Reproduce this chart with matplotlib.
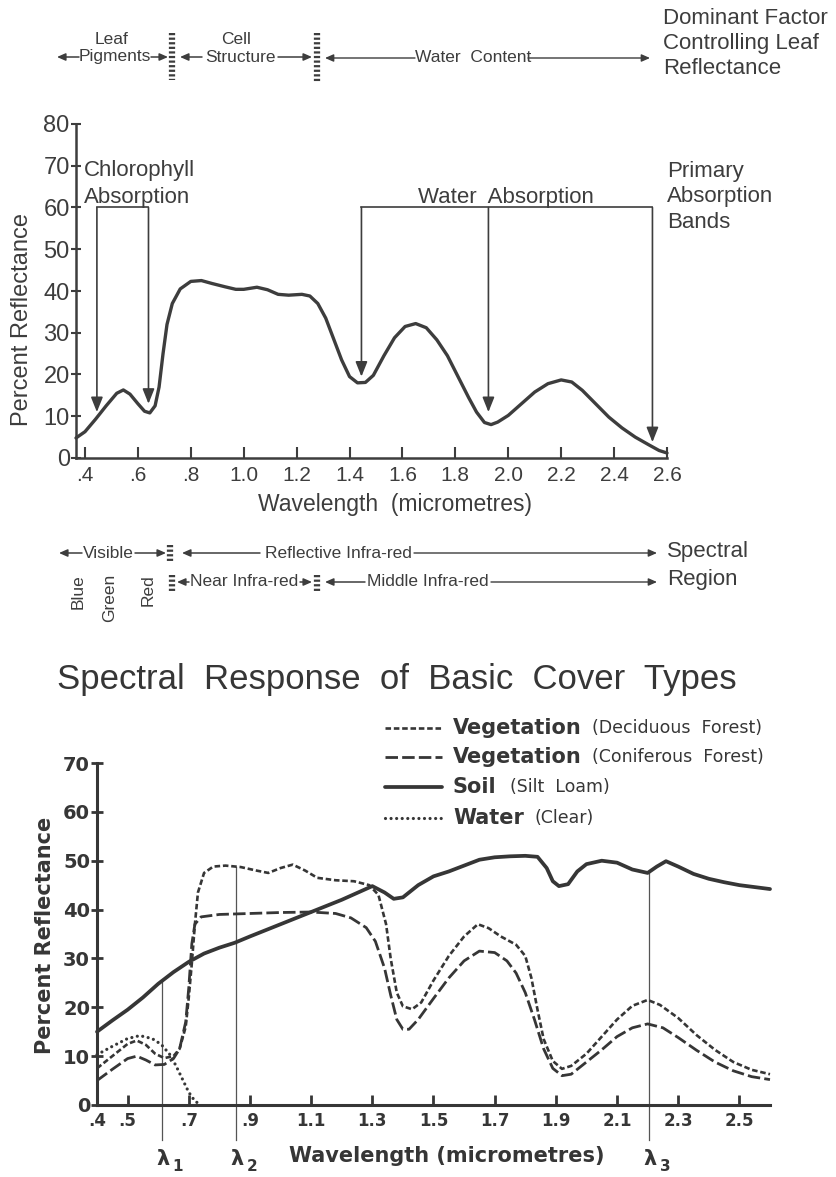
import numpy as np
import matplotlib
matplotlib.use("Agg")
import matplotlib.pyplot as plt
from matplotlib.lines import Line2D

plt.rcParams["lines.scale_dashes"] = False
plt.rcParams["font.family"] = ["Liberation Sans", "DejaVu Sans"]

# ---------------- Leaf reflectance (upper panel) ----------------
leaf_wl = [0.366, 0.40, 0.44, 0.48, 0.52, 0.545, 0.57, 0.60, 0.625, 0.645,
           0.665, 0.68, 0.695, 0.71, 0.73, 0.76, 0.80, 0.84, 0.88, 0.93,
           0.97, 1.00, 1.05, 1.09, 1.13, 1.17, 1.22, 1.25, 1.28, 1.31,
           1.34, 1.37, 1.40, 1.43, 1.46, 1.49, 1.53, 1.57, 1.61, 1.65,
           1.69, 1.73, 1.77, 1.81, 1.85, 1.88, 1.91, 1.935, 1.96, 2.00,
           2.05, 2.10, 2.15, 2.20, 2.24, 2.28, 2.33, 2.38, 2.43, 2.48,
           2.53, 2.57, 2.60]
leaf_refl = [4.8, 6.3, 9.3, 12.5, 15.5, 16.3, 15.3, 13.0, 11.2, 10.8,
             12.5, 17.0, 25.0, 32.0, 37.0, 40.5, 42.3, 42.5, 41.8, 41.0,
             40.4, 40.4, 40.9, 40.3, 39.2, 39.0, 39.2, 38.8, 37.0, 33.5,
             28.5, 23.5, 19.5, 18.0, 18.1, 19.8, 24.5, 28.8, 31.5, 32.2,
             31.2, 28.3, 24.5, 19.5, 14.5, 11.0, 8.5, 8.0, 8.6, 10.2,
             13.0, 15.8, 17.8, 18.7, 18.2, 16.2, 13.0, 9.8, 7.2, 5.0,
             3.2, 1.8, 1.2]

chloro_bands = [0.445, 0.64]
chloro_tips = [11.0, 13.0]
water_bands = [1.445, 1.925, 2.545]
water_tips = [19.5, 11.0, 3.8]
bracket_level = 60

top_xticks = [0.4, 0.6, 0.8, 1.0, 1.2, 1.4, 1.6, 1.8, 2.0, 2.2, 2.4, 2.6]
top_xlabels = [".4", ".6", ".8", "1.0", "1.2", "1.4", "1.6", "1.8",
               "2.0", "2.2", "2.4", "2.6"]
top_yticks = [0, 10, 20, 30, 40, 50, 60, 70, 80]

# ---------------- Cover types (lower panel) ----------------
dec_wl = [0.40, 0.45, 0.50, 0.53, 0.56, 0.59, 0.62, 0.65, 0.67, 0.69,
          0.70, 0.71, 0.72, 0.73, 0.75, 0.78, 0.82, 0.87, 0.92, 0.96,
          1.00, 1.04, 1.08, 1.12, 1.18, 1.24, 1.29, 1.32, 1.345, 1.36,
          1.38, 1.40, 1.43, 1.46, 1.50, 1.55, 1.60, 1.645, 1.68, 1.72,
          1.77, 1.80, 1.82, 1.84, 1.86, 1.89, 1.92, 1.95, 2.00, 2.05,
          2.10, 2.15, 2.20, 2.24, 2.30, 2.36, 2.42, 2.48, 2.54, 2.60]
dec_refl = [7.5, 10.0, 12.5, 13.2, 12.3, 10.5, 9.6, 10.0, 11.5, 16.0,
            22.0, 29.0, 37.0, 43.5, 47.5, 48.8, 49.0, 48.7, 48.0, 47.5,
            48.5, 49.2, 48.0, 46.5, 46.0, 45.8, 45.0, 43.0, 37.0, 30.0,
            23.0, 20.2, 19.6, 21.0, 25.5, 30.5, 34.5, 37.0, 36.2, 34.5,
            32.8, 30.5, 26.0, 19.5, 13.5, 9.0, 7.4, 8.0, 10.5, 14.0,
            17.5, 20.3, 21.5, 20.5, 17.8, 14.3, 11.3, 8.8, 7.2, 6.3]

con_wl = [0.40, 0.45, 0.50, 0.53, 0.56, 0.59, 0.62, 0.65, 0.67, 0.69,
          0.70, 0.71, 0.72, 0.74, 0.80, 0.90, 1.00, 1.10, 1.18, 1.23,
          1.28, 1.31, 1.34, 1.36, 1.38, 1.40, 1.42, 1.45, 1.50, 1.55,
          1.60, 1.65, 1.70, 1.74, 1.77, 1.80, 1.83, 1.86, 1.89, 1.92,
          1.95, 2.00, 2.05, 2.10, 2.15, 2.20, 2.25, 2.30, 2.36, 2.42,
          2.48, 2.54, 2.60]
con_refl = [5.0, 7.3, 9.5, 10.0, 9.2, 8.2, 8.3, 9.5, 11.5, 17.0,
            24.0, 33.0, 37.0, 38.5, 39.0, 39.2, 39.4, 39.5, 39.2, 38.3,
            36.3, 33.5, 28.0, 22.5, 17.5, 15.5, 15.5, 17.5, 21.8, 26.0,
            29.5, 31.5, 31.2, 29.5, 27.0, 23.0, 17.5, 11.5, 7.5, 6.0,
            6.3, 8.8, 11.3, 14.0, 15.8, 16.6, 15.8, 13.8, 11.2, 8.8,
            7.0, 5.8, 5.2]

soil_wl = [0.40, 0.45, 0.50, 0.55, 0.60, 0.65, 0.70, 0.75, 0.80, 0.85,
           0.90, 1.00, 1.10, 1.20, 1.30, 1.34, 1.37, 1.40, 1.45, 1.50,
           1.55, 1.60, 1.65, 1.70, 1.75, 1.80, 1.84, 1.87, 1.89, 1.91,
           1.94, 1.97, 2.00, 2.05, 2.10, 2.15, 2.20, 2.23, 2.26, 2.30,
           2.35, 2.40, 2.45, 2.50, 2.55, 2.60]
soil_refl = [15.0, 17.3, 19.5, 22.0, 24.8, 27.2, 29.3, 31.0, 32.2, 33.2,
             34.5, 37.0, 39.5, 42.0, 44.8, 43.5, 42.2, 42.5, 45.0, 46.8,
             47.8, 49.0, 50.2, 50.7, 50.9, 51.0, 50.8, 48.5, 45.8, 44.8,
             45.2, 47.8, 49.3, 50.0, 49.6, 48.2, 47.5, 48.8, 49.9, 48.8,
             47.3, 46.3, 45.6, 45.0, 44.6, 44.2]

water_wl = [0.40, 0.45, 0.50, 0.54, 0.58, 0.61, 0.64, 0.66, 0.68, 0.70,
            0.72, 0.74]
water_refl = [10.3, 12.0, 13.6, 14.2, 13.6, 12.4, 10.2, 7.8, 5.2, 2.6,
              0.8, 0.0]

bot_xticks = [0.4, 0.5, 0.7, 0.9, 1.1, 1.3, 1.5, 1.7, 1.9, 2.1, 2.3, 2.5]
bot_xlabels = [".4", ".5", ".7", ".9", "1.1", "1.3", "1.5", "1.7", "1.9",
               "2.1", "2.3", "2.5"]
bot_yticks = [0, 10, 20, 30, 40, 50, 60, 70]

lambda_pos = [0.612, 0.854, 2.204]
lambda_sub = ["1", "2", "3"]

# ---------------- styling ----------------
INK = "#3d3d3d"
INK2 = "#363636"
TOP_FONT = ["Liberation Sans", "DejaVu Sans"]
BOT_FONT = ["DejaVu Sans"]

STYLE_DEC = dict(color=INK2, lw=1.9, dashes=(4.0, 2.0), dash_capstyle="butt")
STYLE_CON = dict(color=INK2, lw=2.0, dashes=(9.0, 3.0), dash_capstyle="butt")
STYLE_SOIL = dict(color=INK2, lw=2.7, solid_joinstyle="round",
                  solid_capstyle="round")
STYLE_WATER = dict(color=INK2, lw=2.3, dashes=(0.01, 4.0),
                   dash_capstyle="round")

W, H = 836, 1177
fig = plt.figure(figsize=(W / 100, H / 100), dpi=100)
fig.patch.set_facecolor("white")


def px_axes(left, top, right, bottom):
    return fig.add_axes([left / W, 1 - bottom / H,
                         (right - left) / W, (bottom - top) / H])


ax1 = px_axes(76, 124, 667, 458)
ax2 = px_axes(97, 763, 770, 1105)

ann = fig.add_axes([0, 0, 1, 1])
ann.set_xlim(0, W)
ann.set_ylim(H, 0)
ann.axis("off")
ann.patch.set_alpha(0)
ann.set_zorder(5)


def arrow(ax, x0, y0, x1, y1, hl=0.6, hw=0.25, ms=10, lw=1.1, color=INK):
    ax.annotate("", xy=(x1, y1), xytext=(x0, y0),
                arrowprops=dict(arrowstyle=f"-|>,head_length={hl},head_width={hw}",
                                mutation_scale=ms, lw=lw, color=color,
                                shrinkA=0, shrinkB=0),
                annotation_clip=False)


def separator(ax, x, y0, y1, lw=4.5):
    ax.plot([x, x], [y0, y1], color=INK, lw=lw, dashes=(1.6, 1.7),
            dash_capstyle="butt", solid_capstyle="butt")


# ================= upper panel =================
for ax in (ax1, ax2):
    ax.patch.set_alpha(0)
    for s in ("top", "right"):
        ax.spines[s].set_visible(False)

ax1.plot(leaf_wl, leaf_refl, color=INK, lw=2.4, solid_joinstyle="round",
         solid_capstyle="round", clip_on=False, zorder=3)
ax1.set_xlim(0.366, 2.6)
ax1.set_ylim(0, 80)
for s in ("left", "bottom"):
    ax1.spines[s].set_linewidth(1.8)
    ax1.spines[s].set_color(INK)
ax1.set_xticks(top_xticks)
ax1.set_xticklabels(top_xlabels)
ax1.set_yticks(top_yticks)
ax1.tick_params(axis="x", direction="in", length=8, width=1.5, pad=6,
                labelsize=15, colors=INK)
ax1.tick_params(axis="y", direction="inout", length=7, width=1.5, pad=1,
                labelsize=17, colors=INK)
for lab in ax1.get_xticklabels() + ax1.get_yticklabels():
    lab.set_family(TOP_FONT)

# absorption brackets with arrows
ax1.plot([chloro_bands[0], chloro_bands[-1]], [bracket_level] * 2,
         color=INK, lw=1.2)
for x, tip in zip(chloro_bands, chloro_tips):
    arrow(ax1, x, bracket_level, x, tip, hl=0.75, hw=0.3, ms=12, lw=1.2)
ax1.plot([water_bands[0], water_bands[-1]], [bracket_level] * 2,
         color=INK, lw=1.2)
for x, tip in zip(water_bands, water_tips):
    arrow(ax1, x, bracket_level, x, tip, hl=0.75, hw=0.3, ms=12, lw=1.2)

ax1.text(0.395, 68.8, "Chlorophyll", fontsize=16, color=INK, va="center",
         family=TOP_FONT)
ax1.text(0.395, 62.4, "Absorption", fontsize=16, color=INK, va="center",
         family=TOP_FONT)
ax1.text(1.99, 62.4, "Water  Absorption", fontsize=16, color=INK,
         va="center", ha="center", family=TOP_FONT)

ann.text(22, 320, "Percent Reflectance", rotation=90, fontsize=17, color=INK,
         ha="center", va="center", family=TOP_FONT)
ann.text(395, 505, "Wavelength  (micrometres)", fontsize=16.5, color=INK,
         ha="center", va="center", family=TOP_FONT)
for i, s in enumerate(["Primary", "Absorption", "Bands"]):
    ann.text(667, 171 + 25.5 * i, s, fontsize=16, color=INK, va="center",
             family=TOP_FONT)

# dominant factor header
ann.text(112, 40, "Leaf", fontsize=12.5, color=INK, ha="center", va="center")
ann.text(115, 57, "Pigments", fontsize=12.5, color=INK, ha="center",
         va="center")
arrow(ann, 79, 57, 57, 57, hl=0.5, hw=0.22, ms=10)
arrow(ann, 151, 57, 168, 57, hl=0.5, hw=0.22, ms=10)
separator(ann, 172, 33, 80)
ann.text(236, 40, "Cell", fontsize=12.5, color=INK, ha="center", va="center")
ann.text(240, 57, "Structure", fontsize=12.5, color=INK, ha="center",
         va="center")
arrow(ann, 202, 57, 180, 57, hl=0.5, hw=0.22, ms=10)
arrow(ann, 278, 57, 312, 57, hl=0.5, hw=0.22, ms=10)
separator(ann, 317, 33, 82)
ann.text(473, 58, "Water  Content", fontsize=12.5, color=INK, ha="center",
         va="center")
arrow(ann, 415, 58, 325, 58, hl=0.5, hw=0.22, ms=10, lw=1.0)
arrow(ann, 528, 58, 650, 58, hl=0.5, hw=0.22, ms=10, lw=1.0)
for i, s in enumerate(["Dominant Factor", "Controlling Leaf", "Reflectance"]):
    ann.text(663, 19 + 24.5 * i, s, fontsize=16, color=INK, va="center")

# spectral region bar
ann.text(108, 553, "Visible", fontsize=12.5, color=INK, ha="center",
         va="center")
arrow(ann, 82, 553, 59, 553, hl=0.5, hw=0.22, ms=10)
arrow(ann, 135, 553, 166, 553, hl=0.5, hw=0.22, ms=10)
separator(ann, 170, 545, 561)
arrow(ann, 260, 553, 182, 553, hl=0.5, hw=0.22, ms=10)
ann.text(338, 553, "Reflective Infra-red", fontsize=12.5, color=INK,
         ha="center", va="center")
arrow(ann, 414, 553, 657, 553, hl=0.5, hw=0.22, ms=10, lw=1.0)
ann.text(667, 551, "Spectral", fontsize=16, color=INK, va="center")
ann.text(667, 580, "Region", fontsize=16, color=INK, va="center")

separator(ann, 172, 575, 591)
arrow(ann, 189, 582, 177, 582, hl=0.5, hw=0.22, ms=10)
ann.text(244, 582, "Near Infra-red", fontsize=12.5, color=INK, ha="center",
         va="center")
arrow(ann, 300, 582, 312, 582, hl=0.5, hw=0.22, ms=10)
separator(ann, 317, 575, 591)
arrow(ann, 365, 582, 325, 582, hl=0.5, hw=0.22, ms=10)
ann.text(428, 582, "Middle Infra-red", fontsize=12.5, color=INK, ha="center",
         va="center")
arrow(ann, 491, 582, 657, 582, hl=0.5, hw=0.22, ms=10, lw=1.0)
for x, s in [(78, "Blue"), (110, "Green"), (148, "Red")]:
    ann.text(x, 574, s, rotation=90, fontsize=12.5, color=INK, ha="center",
             va="top")

# ================= lower panel =================
ax2.plot(water_wl, water_refl, clip_on=False, zorder=3, **STYLE_WATER)
ax2.plot(con_wl, con_refl, clip_on=False, zorder=3, **STYLE_CON)
ax2.plot(dec_wl, dec_refl, clip_on=False, zorder=3, **STYLE_DEC)
ax2.plot(soil_wl, soil_refl, clip_on=False, zorder=4, **STYLE_SOIL)
ax2.set_xlim(0.4, 2.6)
ax2.set_ylim(0, 70)
for s in ("left", "bottom"):
    ax2.spines[s].set_linewidth(2.2)
    ax2.spines[s].set_color(INK2)
ax2.set_xticks(bot_xticks)
ax2.set_xticklabels(bot_xlabels)
ax2.set_yticks(bot_yticks)
ax2.tick_params(axis="x", direction="in", length=7, width=2, pad=5,
                labelsize=12, colors=INK2)
ax2.tick_params(axis="y", direction="inout", length=8, width=2, pad=1,
                labelsize=14, colors=INK2)
for lab in ax2.get_xticklabels() + ax2.get_yticklabels():
    lab.set_family(BOT_FONT)
    lab.set_fontweight("bold")

# reference wavelengths with their lambda markers
lambda_curve = [(soil_wl, soil_refl), (dec_wl, dec_refl), (soil_wl, soil_refl)]
for lam, sub, (cw, cr) in zip(lambda_pos, lambda_sub, lambda_curve):
    top = float(np.interp(lam, cw, cr))
    ax2.plot([lam, lam], [-7.2, top], color="#555555", lw=0.9,
             clip_on=False, zorder=2)
    ax2.annotate("λ", xy=(lam, 0), xycoords="data",
                 xytext=(-4, -39), textcoords="offset points",
                 fontsize=15, fontweight="bold", color=INK2,
                 ha="left", va="center", family=BOT_FONT,
                 annotation_clip=False)
    ax2.annotate(sub, xy=(lam, 0), xycoords="data",
                 xytext=(7.8, -44), textcoords="offset points",
                 fontsize=11, fontweight="bold", color=INK2,
                 ha="left", va="center", family=BOT_FONT,
                 annotation_clip=False)

ann.text(45, 935, "Percent Reflectance", rotation=90, fontsize=15,
         fontweight="bold", color=INK2, ha="center", va="center",
         family=BOT_FONT)
ann.text(447, 1156, "Wavelength (micrometres)", fontsize=15,
         fontweight="bold", color=INK2, ha="center", va="center",
         family=BOT_FONT)

ann.text(397, 680, "Spectral  Response  of  Basic  Cover  Types",
         fontsize=25, color=INK2, ha="center", va="center", family=TOP_FONT)

# legend
legend_rows = [
    (728, STYLE_DEC, "Vegetation", "(Deciduous  Forest)", 592),
    (757, STYLE_CON, "Vegetation", "(Coniferous  Forest)", 592),
    (787, STYLE_SOIL, "Soil", "(Silt  Loam)", 510),
    (818, STYLE_WATER, "Water", "(Clear)", 535),
]
for y, style, name, detail, xd in legend_rows:
    ann.add_line(Line2D([385, 442], [y, y], **style))
    ann.text(453, y, name, fontsize=15, fontweight="bold", color=INK2,
             va="center", family=BOT_FONT)
    ann.text(xd, y, detail, fontsize=12.5, color=INK2, va="center",
             family=BOT_FONT)

fig.savefig("out.png", dpi=100, facecolor="white")
